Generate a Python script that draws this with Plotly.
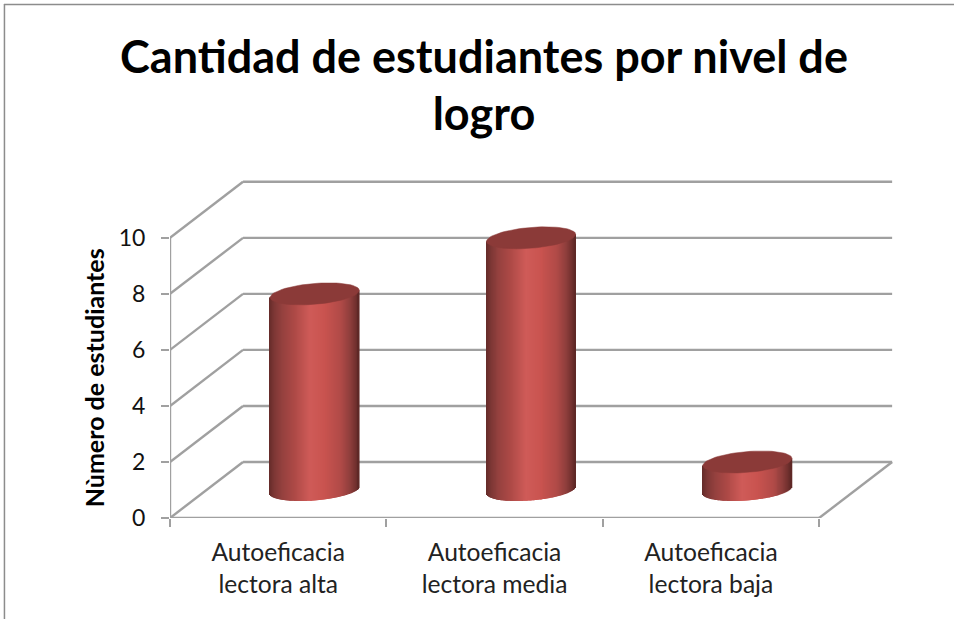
import math
import plotly.graph_objects as go

# ---------- data ----------
categories = ["Autoeficacia<br>lectora alta", "Autoeficacia<br>lectora media", "Autoeficacia<br>lectora baja"]
values = [7, 9, 1]
y_ticks = [0, 2, 4, 6, 8, 10]
title_lines = ["Cantidad de estudiantes por nivel de", "logro"]
y_title = "Nùmero de estudiantes"

# ---------- oblique projection (axis units) ----------
W, H = 954, 619
PX_X, PX_Y = 216.3, 28.0
LEFT, BOTTOM_PX = 170.0, 517.7
X_MAX, Y_MAX = 3.36, 12.1
DEPTH_X, DEPTH_Y = 73 / PX_X, 2.0          # depth of the floor
N = len(categories)
Ru = 0.195                                  # cylinder radius across
Sx, Sy = 14.3 / PX_X, 11 / PX_Y             # cap depth semi-axes
GRID = "#a0a0a0"
LW = 2.4

m_l, m_b = LEFT, H - BOTTOM_PX
m_r = W - LEFT - X_MAX * PX_X
m_t = BOTTOM_PX - Y_MAX * PX_Y
pw, ph = X_MAX * PX_X, Y_MAX * PX_Y

cx = [i + 0.5 + DEPTH_X / 2 for i in range(N)]
base_y = DEPTH_Y / 2


def hex2rgb(h):
    return [int(h[i:i + 2], 16) for i in (1, 3, 5)]


stops = [(0, "#642b29"), (.06, "#7e3735"), (.14, "#93403e"), (.28, "#ad4946"), (.45, "#cf5b58"),
         (.62, "#c9534f"), (.8, "#b04a47"), (.9, "#8f3e3c"), (.96, "#74312f"), (1, "#5c2624")]


def shade(f):
    for (a, ca), (b, cb) in zip(stops, stops[1:]):
        if f <= b:
            t = (f - a) / (b - a)
            c = [round(p + (q - p) * t) for p, q in zip(hex2rgb(ca), hex2rgb(cb))]
            return "rgb(%d,%d,%d)" % tuple(c)
    return stops[-1][1]


A2 = Ru ** 2 + Sx ** 2
HW = math.sqrt(A2)


def edge(dx, sign):
    """Cap outline height (axis units, relative to its centre) at horizontal offset dx."""
    root = Ru * math.sqrt(max(A2 - dx * dx, 0))
    return Sy * (dx * Sx + sign * root) / A2


# ---------- traces ----------
fig = go.Figure()

# cylinder bodies: the real bars, values above the mid-depth floor level
fig.add_trace(go.Bar(x=cx, y=values, base=[base_y] * N, width=[0.3] * N,
                     marker=dict(color="#c0504d", line=dict(width=0)), hoverinfo="skip", showlegend=False))

# cylinder shading strips
n_strips = 91
dw = 2 * HW / n_strips
sx, sb, sh, sc = [], [], [], []
for c, v in zip(cx, values):
    for k in range(n_strips):
        f = (k + 0.5) / n_strips
        dx = -HW + f * 2 * HW
        bottom = base_y + edge(dx, -1)
        top = base_y + v + (edge(dx, -1) + edge(dx, 1)) / 2
        sx.append(c + dx)
        sb.append(bottom)
        sh.append(top - bottom)
        sc.append(shade(f))
fig.add_trace(go.Bar(x=sx, y=sh, base=sb, width=[dw * 1.6] * len(sx),
                     marker=dict(color=sc, line=dict(width=0)), hoverinfo="skip", showlegend=False))

# cylinder caps
for c, v in zip(cx, values):
    ts = [2 * math.pi * i / 72 for i in range(73)]
    fig.add_trace(go.Scatter(
        x=[c + Ru * math.cos(t) + Sx * math.sin(t) for t in ts],
        y=[base_y + v + Sy * math.sin(t) for t in ts],
        mode="lines", fill="toself", fillcolor="#8b3a38",
        line=dict(color="#8b3a38", width=0.5), hoverinfo="skip", showlegend=False))

# side wall, floor and axis lines (front of everything, no crossing with the bars)
xs, ys = [], []
for v in y_ticks:
    xs += [0, DEPTH_X, None]
    ys += [v, v + DEPTH_Y, None]
xs += [0, 0, None, 0, N, None, N, N + DEPTH_X, None]
ys += [0, y_ticks[-1], None, 0, 0, None, 0, DEPTH_Y, None]
fig.add_trace(go.Scatter(x=xs, y=ys, mode="lines", line=dict(color=GRID, width=LW), cliponaxis=False,
                         hoverinfo="skip", showlegend=False))

# back wall lines sit behind the bars
shapes = [dict(type="line", layer="below", xref="x", yref="y", x0=DEPTH_X, x1=N + DEPTH_X,
               y0=v + DEPTH_Y, y1=v + DEPTH_Y, line=dict(color=GRID, width=LW)) for v in y_ticks]
# chart frame, left and top
fx = lambda px: (px - m_l) / pw
fy = lambda px: (H - m_b - px) / ph
frame = "#8c8c8c"
shapes.append(dict(type="line", xref="paper", yref="paper", x0=fx(4.5), x1=fx(4.5), y0=fy(4), y1=fy(H),
                   line=dict(color=frame, width=1.5)))
shapes.append(dict(type="line", xref="paper", yref="paper", x0=fx(4), x1=fx(W), y0=fy(4.5), y1=fy(4.5),
                   line=dict(color=frame, width=1.5)))

tick_span = "<span style='font-size:24.6px'>%s</span>"
tick_text = ["<br>".join(tick_span % part for part in c.split("<br>")) for c in categories]
title_span = "<span style='font-size:45px'>%s</span>"
title_text = "<br>".join("<b>" + title_span % t + "</b>" for t in title_lines)

fig.update_layout(
    width=W, height=H, autosize=False,
    paper_bgcolor="white", plot_bgcolor="white",
    barmode="overlay", showlegend=False,
    font=dict(family="Lato", color="#111111"),
    margin=dict(l=m_l, r=m_r, t=m_t, b=m_b, pad=0),
    title=dict(text=title_text, font=dict(family="Lato", size=44, color="#000000"),
               x=484 / W, xanchor="center", xref="container",
               y=1 - 72.5 / H, yanchor="top"),
    shapes=shapes,
    xaxis=dict(range=[0, X_MAX], tickmode="array", tickvals=[i + 0.5 for i in range(N)], ticktext=tick_text,
               tickfont=dict(size=24.6, color="#222222"), showgrid=False, zeroline=False, showline=False,
               ticks="outside", ticklen=12, tickcolor="rgba(0,0,0,0)",
               minor=dict(tickmode="array", tickvals=list(range(N + 1)), ticks="outside", ticklen=8,
                          tickwidth=LW, tickcolor=GRID, showgrid=False)),
    yaxis=dict(range=[0, Y_MAX], tickmode="array", tickvals=y_ticks, ticktext=[str(t) for t in y_ticks],
               tickfont=dict(size=23, color="#111111"), showgrid=False, zeroline=False, showline=False,
               ticks="outside", ticklen=8, tickwidth=LW, tickcolor=GRID, ticklabelstandoff=11),
    annotations=[dict(text="<b>%s</b>" % y_title, xref="paper", yref="paper", x=fx(94), y=fy(377),
                      xanchor="center", yanchor="middle", textangle=-90, showarrow=False,
                      font=dict(family="Lato", size=25, color="#000000"))],
)

fig.write_html("out.html", post_script="document.body.style.margin='0';", config={"displayModeBar": False})
